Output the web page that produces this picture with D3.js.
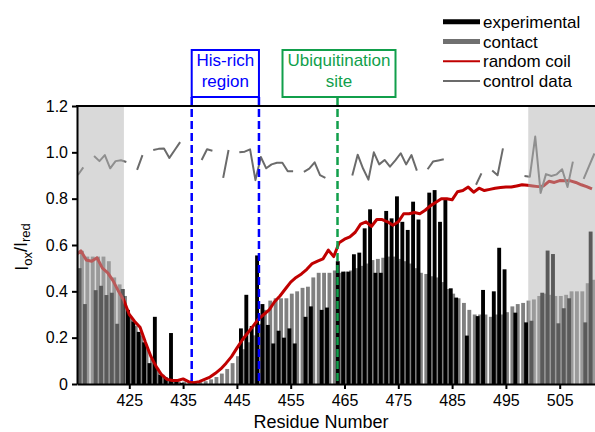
<!DOCTYPE html>
<html>
<head>
<meta charset="utf-8">
<script src="https://d3js.org/d3.v7.min.js"></script>
<style>
  html, body { margin: 0; padding: 0; background: #fff; }
  svg { display: block; font-family: "Liberation Sans", Arial, sans-serif; }
</style>
</head>
<body>
<svg id="chart" width="595" height="432"></svg>
<script>
//////////
// Data //
//////////

// one entry per residue, 415..511 (null = no peak)
var residues = d3.range(415, 512);

var experimental = [
  null, 0.50, 0.345, null, 0.405, 0.424, 0.384, 0.394, 0.26, 0.41,
  0.32, 0.27, 0.225, 0.18, 0.09, 0.29, 0.04, 0.03, 0.22, 0.01,
  0.005, null, null, null, null, null, null, null, null, null,
  null, 0.24, 0.385, 0.25, 0.555, 0.345, 0.255, 0.175, 0.23, 0.20,
  0.24, 0.175, null, 0.29, 0.335, null, 0.32, 0.33, null, 0.53,
  0.485, 0.485, 0.56, 0.567, 0.672, 0.754, 0.48, 0.48, 0.747, 0.715,
  0.81, 0.70, 0.665, 0.787, 0.71, null, 0.826, 0.837, 0.70, 0.80,
  0.413, 0.373, null, 0.209, null, 0.293, 0.406, null, 0.40, 0.588,
  0.495, null, 0.308, null, 0.266, 0.273, null, 0.394, 0.576, 0.561,
  0.262, 0.327, 0.37, null, null, 0.266, 0.658
];

var contact = [
  0.56, 0.575, 0.55, 0.55, 0.55, 0.55, 0.53, 0.46, 0.43, 0.38,
  0.29, 0.25, 0.21, 0.16, 0.11, 0.07, 0.04, 0.025, 0.015, 0.01,
  0.01, 0.005, 0.005, 0.008, 0.012, 0.02, 0.03, 0.045, 0.065, 0.09,
  0.12, 0.15, 0.18, 0.21, 0.26, 0.32, 0.36, 0.37, 0.37, 0.37,
  0.39, 0.40, 0.415, 0.42, 0.46, 0.48, 0.48, 0.48, 0.49, 0.48,
  0.485, 0.49, 0.50, 0.51, 0.52, 0.535, 0.54, 0.545, 0.55, 0.55,
  0.54, 0.53, 0.52, 0.50, 0.48, 0.475, 0.465, 0.46, 0.44, 0.41,
  0.39, 0.37, 0.35, 0.32, 0.30, 0.30, 0.30, 0.29, 0.30, 0.30,
  0.31, 0.335, 0.345, 0.35, 0.36, 0.365, 0.38, 0.39, 0.385, 0.38,
  0.38, 0.385, 0.40, 0.40, 0.40, 0.435, 0.45
];

var randomCoil = [
  0.555, 0.575, 0.535, 0.53, 0.545, 0.50, 0.48, 0.445, 0.40, 0.36,
  0.30, 0.27, 0.245, 0.18, 0.12, 0.075, 0.04, 0.02, 0.015, 0.015,
  0.022, 0.01, 0.006, 0.01, 0.02, 0.03, 0.046, 0.065, 0.09, 0.118,
  0.155, 0.19, 0.22, 0.25, 0.28, 0.30, 0.32, 0.355, 0.38, 0.41,
  0.44, 0.46, 0.475, 0.495, 0.52, 0.53, 0.54, 0.578, 0.55, 0.61,
  0.625, 0.635, 0.655, 0.69, 0.70, 0.68, 0.71, 0.71, 0.70, 0.685,
  0.70, 0.735, 0.735, 0.74, 0.735, 0.75, 0.77, 0.785, 0.80, 0.80,
  0.795, 0.83, 0.835, 0.85, 0.828, 0.845, 0.835, 0.84, 0.845, 0.848,
  0.85, 0.85, 0.855, 0.86, 0.858, 0.855, 0.852, 0.855, 0.875, 0.87,
  0.878, 0.877, 0.877, 0.87, 0.86, 0.852, 0.842
];

var controlData = [
  0.902, 0.935, null, 0.984, 0.962, 0.988, 0.931, 0.962, 0.966, 0.958,
  null, 0.924, 0.988, null, 1.01, 1.015, 1.017, 0.976, 1.01, 1.044,
  null, null, null, 0.967, 1.013, 1.007, null, 0.89, 1.01, null,
  1.0, 1.003, 1.013, 0.88, 0.98, 0.931, 0.948, 0.955, 0.955, 0.918,
  0.918, null, 0.916, 0.93, 0.957, 0.902, 0.89, null, null, null,
  null, 0.90, 0.99, 0.93, 0.882, 1.0, 0.948, 0.967, 0.938, 0.965,
  0.996, 0.948, 0.988, 0.921, null, 0.927, 0.96, 0.965, 0.97, null,
  null, null, null, null, 0.86, 0.909, null, 0.922, 0.901, 1.017,
  null, null, null, 0.898, 0.895, 1.068, 0.825, 0.906, 0.898, 0.905,
  0.927, 0.85, 0.96, null, 0.885, 0.94, 0.995
];

var xTicks = [425, 435, 445, 455, 465, 475, 485, 495, 505];
var yTicks = [0, 0.2, 0.4, 0.6, 0.8, 1.0, 1.2];
var yTickLabels = ['0', '0.2', '0.4', '0.6', '0.8', '1.0', '1.2'];

// residue ranges greyed out, and the marked regions
var shadedRanges = [[414, 424], [499.15, 513]];
var hisRichRange = [436.6, 449.1];
var ubiquitinationSite = 463.7;

var legendLabels = ['experimental', 'contact', 'random coil', 'control data'];

////////////
// Styles //
////////////

var black = '#000000';
var grey = '#808080';
var lineGrey = '#6b6b6b';
var red = '#c00000';
var blue = '#0000ff';
var green = '#119f4b';

var svg = d3.select('#chart');
var plot = {left: 77, right: 595, top: 106, bottom: 384};

var x = d3.scaleLinear().domain([415.28, 511.56]).range([plot.left, plot.right]);
var y = d3.scaleLinear().domain([0, 1.2]).range([plot.bottom, plot.top]);
var unit = x(1) - x(0);

svg.append('defs').append('clipPath')
  .attr('id', 'plot-clip')
  .append('rect')
    .attr('x', plot.left)
    .attr('y', 0)
    .attr('width', plot.right - plot.left)
    .attr('height', plot.bottom);

var g = svg.append('g').attr('clip-path', 'url(#plot-clip)');

//////////
// Bars //
//////////

var barWidth = 0.72; // in residues
var drawBars = function(values, offset, fill) {
  var rows = residues.map(function(r, i) { return {r: r, v: values[i]}; })
    .filter(function(d) { return d.v != null; });
  g.append('g').selectAll('rect')
    .data(rows)
    .enter()
    .append('rect')
      .attr('x', function(d) { return x(d.r + offset - barWidth / 2); })
      .attr('width', barWidth * unit)
      .attr('y', function(d) { return y(d.v); })
      .attr('height', function(d) { return y(0) - y(d.v); })
      .attr('fill', fill);
};

drawBars(contact, 0.2, grey);
drawBars(experimental, -0.25, black);

///////////
// Lines //
///////////

var drawLine = function(values, offset, stroke, width) {
  var rows = residues.map(function(r, i) { return {r: r, v: values[i]}; });
  var line = d3.line()
    .defined(function(d) { return d.v != null; })
    .x(function(d) { return x(d.r + offset); })
    .y(function(d) { return y(d.v); });
  g.append('path')
    .datum(rows)
    .attr('d', line)
    .attr('fill', 'none')
    .attr('stroke', stroke)
    .attr('stroke-width', width)
    .attr('stroke-linejoin', 'round');
};

drawLine(randomCoil, 0, red, 3);
drawLine(controlData, 0.45, lineGrey, 2);

// translucent grey over the termini (dims what lies under it)
g.selectAll('.shade')
  .data(shadedRanges)
  .enter()
  .append('rect')
    .attr('class', 'shade')
    .attr('x', function(d) { return x(d[0]); })
    .attr('width', function(d) { return x(d[1]) - x(d[0]); })
    .attr('y', plot.top)
    .attr('height', plot.bottom - plot.top)
    .attr('fill', '#b3b3b3')
    .attr('opacity', 0.5);

/////////////////
// Annotations //
/////////////////

var boxTop = 50, boxBottom = 97;

var dashed = function(xPos, color) {
  svg.append('line')
    .attr('x1', xPos).attr('x2', xPos)
    .attr('y1', boxBottom).attr('y2', plot.bottom)
    .attr('stroke', color)
    .attr('stroke-width', 2.5)
    .attr('stroke-dasharray', '8,4');
};

var annotBox = function(x0, x1, lines, color) {
  svg.append('rect')
    .attr('x', x0).attr('y', boxTop)
    .attr('width', x1 - x0).attr('height', boxBottom - boxTop)
    .attr('fill', 'none')
    .attr('stroke', color)
    .attr('stroke-width', 2);
  lines.forEach(function(t, i) {
    svg.append('text')
      .attr('x', (x0 + x1) / 2)
      .attr('y', 66 + i * 20.5)
      .attr('text-anchor', 'middle')
      .attr('font-size', 17)
      .attr('fill', color)
      .text(t);
  });
};

dashed(x(hisRichRange[0]), blue);
dashed(x(hisRichRange[1]), blue);
annotBox(x(hisRichRange[0]), x(hisRichRange[1]), ['His-rich', 'region'], blue);

dashed(x(ubiquitinationSite), green);
annotBox(x(ubiquitinationSite) - 55, x(ubiquitinationSite) + 58, ['Ubiquitination', 'site'], green);

//////////
// Axes //
//////////

var xAxis = svg.append('g')
  .attr('transform', 'translate(0,' + plot.bottom + ')')
  .call(d3.axisBottom(x).tickValues(xTicks).tickFormat(d3.format('d'))
    .tickSize(5).tickSizeOuter(0).tickPadding(6));

var yAxis = svg.append('g')
  .attr('transform', 'translate(' + plot.left + ',0)')
  .call(d3.axisLeft(y).tickValues(yTicks)
    .tickFormat(function(d, i) { return yTickLabels[i]; })
    .tickSize(5).tickSizeOuter(0).tickPadding(4));

[xAxis, yAxis].forEach(function(a) {
  a.select('.domain').attr('stroke', black).attr('stroke-width', 2);
  a.selectAll('.tick line').attr('stroke', black).attr('stroke-width', 2);
  a.selectAll('.tick text')
    .attr('font-size', 16)
    .attr('font-family', '"Liberation Sans", Arial, sans-serif')
    .attr('fill', black);
});

// top frame line
svg.append('line')
  .attr('x1', plot.left - 1).attr('x2', plot.right)
  .attr('y1', plot.top).attr('y2', plot.top)
  .attr('stroke', black)
  .attr('stroke-width', 2);

svg.append('text')
  .attr('x', 321)
  .attr('y', 428)
  .attr('text-anchor', 'middle')
  .attr('font-size', 18)
  .text('Residue Number');

var yLabel = svg.append('text')
  .attr('transform', 'translate(28,247) rotate(-90)')
  .attr('text-anchor', 'middle')
  .attr('font-size', 18);
yLabel.append('tspan').text('I');
yLabel.append('tspan').attr('font-size', 13).attr('dy', '0.3em').text('ox');
yLabel.append('tspan').attr('dy', '-0.3em').text('/I');
yLabel.append('tspan').attr('font-size', 13).attr('dy', '0.3em').text('red');

////////////
// Legend //
////////////

var legendStyles = [
  {stroke: black, width: 5},
  {stroke: '#707070', width: 5},
  {stroke: red, width: 2},
  {stroke: lineGrey, width: 2}
];

var legend = svg.append('g')
  .selectAll('g')
  .data(legendLabels)
  .enter()
  .append('g')
    .attr('transform', function(d, i) { return 'translate(0,' + (21.7 + i * 19.8) + ')'; });

legend.append('line')
  .attr('x1', 443).attr('x2', 480)
  .attr('stroke', function(d, i) { return legendStyles[i].stroke; })
  .attr('stroke-width', function(d, i) { return legendStyles[i].width; });

legend.append('text')
  .attr('x', 483)
  .attr('y', 6)
  .attr('font-size', 17)
  .text(function(d) { return d; });
</script>
</body>
</html>
